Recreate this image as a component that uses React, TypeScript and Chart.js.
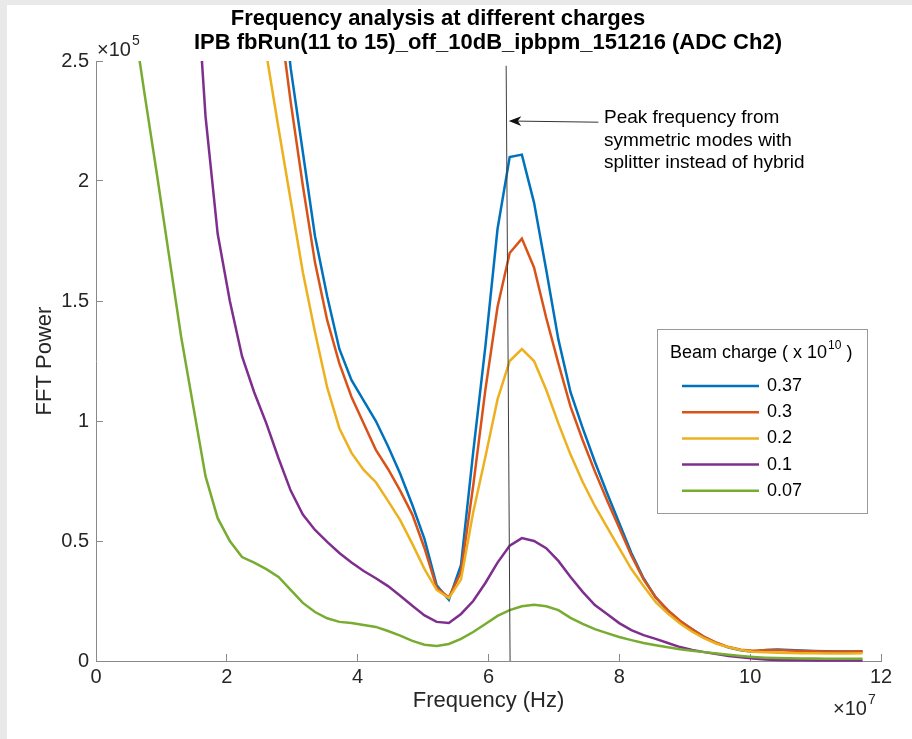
import React, { useEffect, useRef } from "react";
import { Chart, registerables } from "chart.js";

Chart.register(...registerables);

const FONT = "'Liberation Sans', Arial, Helvetica, sans-serif";

// Frequency bins (units of 1e7 Hz)
const FREQ_E7 = [
  0.186, 0.372, 0.558, 0.744, 0.930, 1.116, 1.302, 1.488, 1.674, 1.860,
  2.046, 2.232, 2.418, 2.604, 2.790, 2.976, 3.162, 3.348, 3.534, 3.720,
  3.906, 4.092, 4.278, 4.464, 4.650, 4.836, 5.022, 5.208, 5.394, 5.580,
  5.766, 5.952, 6.138, 6.324, 6.510, 6.696, 6.882, 7.068, 7.254, 7.440,
  7.626, 7.812, 7.998, 8.184, 8.370, 8.556, 8.742, 8.928, 9.114, 9.300,
  9.486, 9.672, 9.858, 10.044, 10.230, 10.416, 10.602, 10.788, 10.974, 11.160,
  11.346, 11.532, 11.718,
];

// FFT power (units of 1e5)
const POWER_037 = [
  14.0, 12.5, 11.0, 10.0, 9.0, 8.2, 7.5, 6.8, 6.2, 5.6,
  5.1, 4.6, 4.1, 3.5, 2.95, 2.47, 2.12, 1.77, 1.52, 1.30,
  1.17, 1.085, 1.0, 0.895, 0.78, 0.65, 0.508, 0.315, 0.255, 0.40,
  0.87, 1.31, 1.80, 2.10, 2.11, 1.91, 1.63, 1.34, 1.12, 0.97,
  0.83, 0.70, 0.575, 0.45, 0.345, 0.265, 0.21, 0.165, 0.132, 0.10,
  0.075, 0.056, 0.045, 0.039, 0.046, 0.048, 0.046, 0.044, 0.042, 0.041,
  0.04, 0.04, 0.04,
];
const POWER_030 = [
  12.0, 10.8, 9.8, 8.9, 8.1, 7.3, 6.6, 6.0, 5.4, 4.9,
  4.4, 3.9, 3.45, 3.05, 2.72, 2.33, 1.98, 1.66, 1.42, 1.24,
  1.10, 0.99, 0.88, 0.80, 0.71, 0.61, 0.47, 0.305, 0.265, 0.37,
  0.73, 1.13, 1.475, 1.70, 1.76, 1.64, 1.43, 1.24, 1.06, 0.92,
  0.79, 0.67, 0.555, 0.44, 0.34, 0.265, 0.212, 0.168, 0.132, 0.10,
  0.076, 0.058, 0.047, 0.043, 0.045, 0.046, 0.044, 0.042, 0.041, 0.04,
  0.04, 0.04, 0.041,
];
const POWER_020 = [
  11.0, 10.0, 9.0, 8.1, 7.3, 6.6, 5.9, 5.3, 4.7, 4.2,
  3.75, 3.3, 2.9, 2.53, 2.22, 1.92, 1.62, 1.37, 1.14, 0.97,
  0.867, 0.796, 0.745, 0.667, 0.587, 0.488, 0.383, 0.296, 0.262, 0.34,
  0.62, 0.85, 1.09, 1.25, 1.30, 1.25, 1.13, 0.99, 0.86, 0.746,
  0.646, 0.558, 0.47, 0.383, 0.3125, 0.245, 0.198, 0.156, 0.122, 0.094,
  0.072, 0.057, 0.046, 0.039, 0.036, 0.034, 0.033, 0.032, 0.032, 0.031,
  0.031, 0.031, 0.032,
];
const POWER_010 = [
  7.0, 6.4, 5.8, 5.2, 4.6, 4.1, 3.6, 3.05, 2.27, 1.78,
  1.50, 1.27, 1.12, 0.99, 0.845, 0.71, 0.61, 0.546, 0.496, 0.45,
  0.41, 0.375, 0.345, 0.312, 0.272, 0.23, 0.19, 0.163, 0.158, 0.196,
  0.25, 0.325, 0.41, 0.48, 0.512, 0.50, 0.47, 0.417, 0.35, 0.288,
  0.233, 0.196, 0.158, 0.129, 0.108, 0.092, 0.075, 0.058, 0.046, 0.037,
  0.029, 0.021, 0.016, 0.010, 0.006, 0.004, 0.003, 0.003, 0.002, 0.002,
  0.002, 0.002, 0.002,
];
const POWER_007 = [
  3.45, 3.10, 2.70, 2.36, 2.03, 1.69, 1.35, 1.06, 0.77, 0.595,
  0.50, 0.433, 0.41, 0.383, 0.35, 0.296, 0.242, 0.204, 0.178, 0.163,
  0.158, 0.150, 0.142, 0.125, 0.106, 0.084, 0.068, 0.063, 0.071, 0.092,
  0.121, 0.154, 0.188, 0.212, 0.228, 0.234, 0.228, 0.212, 0.18, 0.155,
  0.133, 0.116, 0.100, 0.087, 0.075, 0.066, 0.057, 0.049, 0.043, 0.037,
  0.031, 0.026, 0.021, 0.017, 0.014, 0.012, 0.011, 0.010, 0.010, 0.009,
  0.009, 0.009, 0.009,
];

const SERIES = [POWER_037, POWER_030, POWER_020, POWER_010, POWER_007];
const CHARGE_LABELS = ["0.37", "0.3", "0.2", "0.1", "0.07"];
const COLORS = ["#0072BD", "#D95319", "#EDB120", "#7E2F8E", "#77AC30"];

const X_TICKS = [0, 2, 4, 6, 8, 10, 12];
const Y_TICKS = [0, 0.5, 1, 1.5, 2, 2.5];

// vertical marker line (data units)
const MARKER_X = [6.27, 6.33];
const MARKER_Y = [2.48, 0];

// arrow annotation (data units)
const ARROW_TAIL = [7.68, 2.245];
const ARROW_TIP = [6.31, 2.25];

const TITLE_LINES = [
  "Frequency analysis at different charges",
  "IPB fbRun(11 to 15)_off_10dB_ipbpm_151216 (ADC Ch2)",
];
const NOTE_LINES = [
  "Peak frequency from",
  "symmetric modes with",
  "splitter instead of hybrid",
];
const LEGEND_TITLE = "Beam charge ( x 10";
const LEGEND_TITLE_SUP = "10";
const LEGEND_TITLE_END = " )";
const X_LABEL = "Frequency (Hz)";
const Y_LABEL = "FFT Power";

const AXIS_COLOR = "#8a8a8a";
const TEXT_COLOR = "#262626";

function drawExp(ctx: any, base: string, exp: string, x: number, y: number) {
  ctx.textAlign = "left";
  ctx.textBaseline = "middle";
  ctx.fillStyle = TEXT_COLOR;
  ctx.font = `20px ${FONT}`;
  ctx.fillText(base, x, y);
  const w = ctx.measureText(base).width;
  ctx.font = `14px ${FONT}`;
  ctx.fillText(exp, x + w + 1, y - 9);
}

const decorPlugin = {
  id: "decor",
  afterDraw(chart: any) {
    const ctx = chart.ctx;
    const xs = chart.scales.x;
    const ys = chart.scales.y;
    ctx.save();

    // Title
    ctx.fillStyle = "#000";
    ctx.textBaseline = "middle";
    ctx.textAlign = "center";
    ctx.font = `bold 22px ${FONT}`;
    ctx.fillText(TITLE_LINES[0], 438, 19);
    ctx.fillText(TITLE_LINES[1], 488, 43);

    // Exponent labels
    drawExp(ctx, "\u00d710", "5", 97, 50);
    drawExp(ctx, "\u00d710", "7", 833, 709);

    // Arrow
    const tx = xs.getPixelForValue(ARROW_TIP[0]);
    const ty = ys.getPixelForValue(ARROW_TIP[1]);
    const sx = xs.getPixelForValue(ARROW_TAIL[0]);
    const sy = ys.getPixelForValue(ARROW_TAIL[1]);
    const len = Math.hypot(sx - tx, sy - ty);
    const ux = (sx - tx) / len;
    const uy = (sy - ty) / len;
    const px = -uy;
    const py = ux;
    ctx.strokeStyle = "#333";
    ctx.lineWidth = 1;
    ctx.beginPath();
    ctx.moveTo(sx, sy);
    ctx.lineTo(tx + ux * 9, ty + uy * 9);
    ctx.stroke();
    ctx.fillStyle = "#111";
    ctx.beginPath();
    ctx.moveTo(tx, ty);
    ctx.lineTo(tx + ux * 12.5 + px * 4.8, ty + uy * 12.5 + py * 4.8);
    ctx.lineTo(tx + ux * 9, ty + uy * 9);
    ctx.lineTo(tx + ux * 12.5 - px * 4.8, ty + uy * 12.5 - py * 4.8);
    ctx.closePath();
    ctx.fill();

    // Note text
    ctx.fillStyle = "#000";
    ctx.textAlign = "left";
    ctx.textBaseline = "middle";
    ctx.font = `19px ${FONT}`;
    NOTE_LINES.forEach((t, i) => ctx.fillText(t, 604, 118 + i * 22.5));

    // Legend
    const lx = 657.5, ly = 329.5, lw = 210, lh = 184;
    ctx.fillStyle = "#fff";
    ctx.fillRect(lx, ly, lw, lh);
    ctx.strokeStyle = "#9a9a9a";
    ctx.lineWidth = 1;
    ctx.strokeRect(lx, ly, lw, lh);
    ctx.fillStyle = "#000";
    ctx.font = `18px ${FONT}`;
    ctx.fillText(LEGEND_TITLE, 670, 353);
    let w = ctx.measureText(LEGEND_TITLE).width;
    ctx.font = `12px ${FONT}`;
    ctx.fillText(LEGEND_TITLE_SUP, 670 + w + 1, 346);
    const w2 = ctx.measureText(LEGEND_TITLE_SUP).width;
    ctx.font = `18px ${FONT}`;
    ctx.fillText(LEGEND_TITLE_END, 670 + w + 1 + w2, 353);

    const items = chart.data.datasets.filter((d: any) => d.inLegend);
    items.forEach((d: any, i: number) => {
      const yy = 386 + i * 26.2;
      ctx.strokeStyle = d.borderColor;
      ctx.lineWidth = d.borderWidth;
      ctx.beginPath();
      ctx.moveTo(682, yy);
      ctx.lineTo(759, yy);
      ctx.stroke();
      ctx.fillStyle = "#000";
      ctx.font = `18px ${FONT}`;
      ctx.fillText(d.label, 767, yy);
    });

    ctx.restore();
  },
};

export default function App() {
  const ref = useRef<HTMLCanvasElement>(null);

  useEffect(() => {
    const canvas = ref.current;
    if (!canvas) return;
    const datasets: any[] = SERIES.map((s, i) => ({
      label: CHARGE_LABELS[i],
      inLegend: true,
      data: FREQ_E7.map((f, k) => ({ x: f, y: s[k] })),
      borderColor: COLORS[i],
      backgroundColor: COLORS[i],
      borderWidth: 2.5,
      pointRadius: 0,
      tension: 0,
      fill: false,
      order: 5 - i,
      clip: { left: 0, top: 0, right: 0, bottom: 3 },
    }));
    datasets.push({
      label: "marker",
      inLegend: false,
      data: MARKER_X.map((x, k) => ({ x, y: MARKER_Y[k] })),
      borderColor: "#3c3c3c",
      borderWidth: 1,
      pointRadius: 0,
      fill: false,
      order: -1,
      clip: 3,
    });

    const chart = new Chart(canvas, {
      type: "line",
      data: { datasets },
      plugins: [decorPlugin],
      options: {
        animation: false,
        responsive: false,
        devicePixelRatio: 1,
        layout: { padding: { left: 0, right: 31, top: 61, bottom: 0 } },
        plugins: {
          legend: { display: false },
          tooltip: { enabled: false },
          title: { display: false },
        },
        scales: {
          x: {
            type: "linear",
            position: "bottom",
            min: 0,
            max: 12,
            afterFit: (s: any) => {
              s.height = 78;
            },
            afterBuildTicks: (s: any) => {
              s.ticks = X_TICKS.map((v) => ({ value: v }));
            },
            border: { display: true, color: AXIS_COLOR, width: 1 },
            grid: {
              drawOnChartArea: false,
              drawTicks: true,
              tickLength: -7,
              color: AXIS_COLOR,
            },
            ticks: {
              padding: 11,
              color: TEXT_COLOR,
              font: { family: FONT, size: 20 },
              maxRotation: 0,
              autoSkip: false,
              callback: (v: any) => String(v),
            },
            title: {
              display: true,
              text: X_LABEL,
              color: TEXT_COLOR,
              font: { family: FONT, size: 22 },
              padding: { top: 0, bottom: 25 },
            },
          },
          y: {
            type: "linear",
            position: "left",
            min: 0,
            max: 2.5,
            afterFit: (s: any) => {
              s.width = 96;
            },
            afterBuildTicks: (s: any) => {
              s.ticks = Y_TICKS.map((v) => ({ value: v }));
            },
            border: { display: true, color: AXIS_COLOR, width: 1 },
            grid: {
              drawOnChartArea: false,
              drawTicks: true,
              tickLength: -7,
              color: AXIS_COLOR,
            },
            ticks: {
              padding: 14,
              color: TEXT_COLOR,
              font: { family: FONT, size: 20 },
              autoSkip: false,
              callback: (v: any) => String(v),
            },
            title: {
              display: true,
              text: Y_LABEL,
              color: TEXT_COLOR,
              font: { family: FONT, size: 22 },
              padding: { top: 32, bottom: 0 },
            },
          },
        },
      } as any,
    });
    return () => chart.destroy();
  }, []);

  return (
    <div
      style={{
        position: "fixed",
        left: 0,
        top: 0,
        width: 912,
        height: 739,
        background: "#e9e9e9",
        overflow: "hidden",
      }}
    >
      <div
        style={{
          position: "absolute",
          left: 7,
          top: 5,
          right: 0,
          bottom: 0,
          background: "#ffffff",
        }}
      />
      <canvas
        ref={ref}
        width={912}
        height={739}
        style={{ position: "absolute", left: 0, top: 0, width: 912, height: 739, display: "block" }}
      />
    </div>
  );
}
